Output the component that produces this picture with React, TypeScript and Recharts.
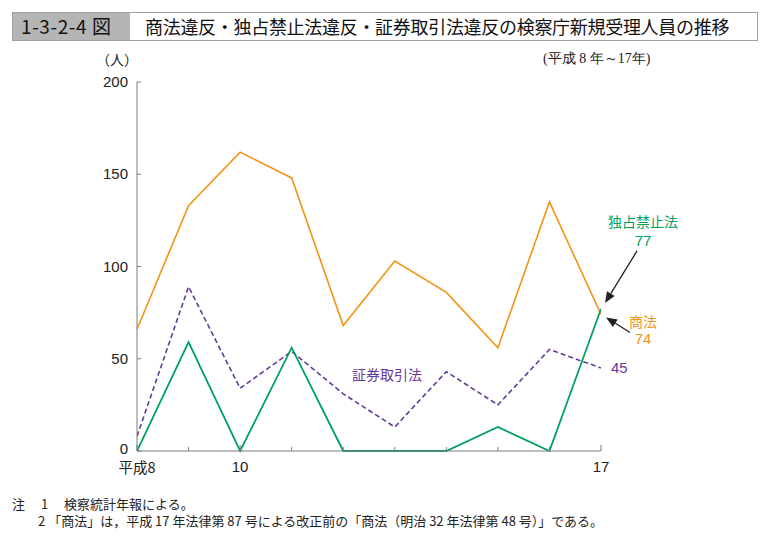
import React from 'react';
import { LineChart, Line, XAxis, YAxis, ReferenceDot } from 'recharts';

const years = [8, 9, 10, 11, 12, 13, 14, 15, 16, 17];
const shoho = [66, 133, 162, 148, 68, 103, 86, 56, 135, 74];
const dokusen = [0, 59, 0, 56, 0, 0, 0, 13, 0, 77];
const shoken = [8, 89, 34, 54, 31, 13, 43, 25, 55, 45];
const xTicks = [8, 9, 10, 11, 12, 13, 14, 15, 16, 17];
const xTickLabels: Record<number, string> = { 8: '平成8', 10: '10', 17: '17' };
const yTicks = [0, 50, 100, 150, 200];

const ORANGE = '#F39414';
const GREEN = '#00A05E';
const PURPLE = '#65399A';
const AXIS = '#7d7d7d';
const NUMFONT = '"Liberation Sans", Arial, sans-serif';
const JPFONT = '"Noto Sans CJK JP", "Noto Sans", sans-serif';

const data = years.map((y, i) => ({ year: y, shoho: shoho[i], dokusen: dokusen[i], shoken: shoken[i] }));
const last = data.length - 1;

const XTick = (props: any) => {
  const { x, y, payload } = props;
  const label = xTickLabels[payload.value];
  const jp = label && label.length > 2;
  return (
    <g>
      <line x1={x} y1={y} x2={x} y2={y - (label ? 6 : 4)} stroke={AXIS} strokeWidth={1} />
      {label && (
        <text x={x} y={y + (jp ? 22 : 21)} textAnchor="middle" fontSize={jp ? 14.5 : 15} fill="#222" fontFamily={jp ? JPFONT : NUMFONT}>
          {label}
        </text>
      )}
    </g>
  );
};

const YTick = (props: any) => {
  const { x, y, payload } = props;
  return (
    <g>
      <line x1={x} y1={y} x2={x + 4} y2={y} stroke={AXIS} strokeWidth={1} />
      <text x={x - 9} y={y + (payload.value === 0 ? 3 : 5)} textAnchor="end" fontSize={15} fill="#222" fontFamily={NUMFONT}>
        {payload.value}
      </text>
    </g>
  );
};

const Arrow = ({ x1, y1, x2, y2 }: { x1: number; y1: number; x2: number; y2: number }) => {
  const ang = Math.atan2(y2 - y1, x2 - x1);
  const len = 11;
  const w = 4.5;
  const bx = x2 - len * Math.cos(ang);
  const by = y2 - len * Math.sin(ang);
  const px = -Math.sin(ang) * w;
  const py = Math.cos(ang) * w;
  return (
    <g>
      <line x1={x1} y1={y1} x2={bx} y2={by} stroke="#222" strokeWidth={1.3} />
      <polygon points={`${x2},${y2} ${bx + px},${by + py} ${bx - px},${by - py}`} fill="#222" />
    </g>
  );
};

const DokusenLabel = (props: any) => {
  const { cx, cy } = props;
  return (
    <g>
      <Arrow x1={cx + 36} y1={cy - 58} x2={cx + 4} y2={cy - 6} />
      <text x={cx + 42} y={cy - 82} textAnchor="middle" fontSize={14} fill={GREEN} fontFamily={JPFONT}>独占禁止法</text>
      <text x={cx + 42} y={cy - 63} textAnchor="middle" fontSize={15} fill={GREEN} fontFamily={NUMFONT}>{dokusen[last]}</text>
    </g>
  );
};

const ShohoLabel = (props: any) => {
  const { cx, cy } = props;
  return (
    <g>
      <Arrow x1={cx + 29} y1={cy + 18} x2={cx + 5} y2={cy + 3} />
      <text x={cx + 42} y={cy + 13} textAnchor="middle" fontSize={14} fill={ORANGE} fontFamily={JPFONT}>商法</text>
      <text x={cx + 42} y={cy + 30} textAnchor="middle" fontSize={15} fill={ORANGE} fontFamily={NUMFONT}>{shoho[last]}</text>
    </g>
  );
};

const ShokenLabel = (props: any) => {
  const { cx, cy } = props;
  return (
    <text x={cx + 10} y={cy + 5} textAnchor="start" fontSize={15} fill={PURPLE} fontFamily={NUMFONT}>{shoken[last]}</text>
  );
};

export default function App() {
  return (
    <div style={{ position: 'absolute', left: 0, top: 0, width: 772, height: 539, background: '#fff', fontFamily: JPFONT }}>
      {/* title bar */}
      <div style={{ position: 'absolute', left: 12, top: 12, width: 118, height: 28, background: '#b5b5b5' }} />
      <div style={{ position: 'absolute', left: 12, top: 12, width: 744, height: 27, border: '1px solid #a0a0a0', boxSizing: 'content-box' }} />
      <div style={{ position: 'absolute', left: 21, top: 13, fontSize: 19, lineHeight: '26px', color: '#111', fontFamily: JPFONT, letterSpacing: 0.6, whiteSpace: 'nowrap' }}>1-3-2-4 図</div>
      <div style={{ position: 'absolute', left: 145, top: 13, fontSize: 18, lineHeight: '26px', color: '#111', fontFamily: JPFONT, whiteSpace: 'nowrap', letterSpacing: -0.3 }}>
        商法違反・独占禁止法違反・証券取引法違反の検察庁新規受理人員の推移
      </div>
      <div style={{ position: 'absolute', left: 96, top: 49, fontSize: 14, lineHeight: '20px', color: '#222' }}>（人）</div>
      <div style={{ position: 'absolute', left: 543, top: 49, fontSize: 14, lineHeight: '20px', color: '#222', fontFamily: '"Liberation Serif", serif', whiteSpace: 'nowrap' }}>
        (平成 8 年～17年)
      </div>

      <div style={{ position: 'absolute', left: 0, top: 0 }}>
        <LineChart width={772} height={539} data={data} margin={{ top: 82, right: 171, bottom: 0, left: 0 }}>
          <XAxis
            dataKey="year"
            type="number"
            domain={[8, 17]}
            ticks={xTicks}
            height={88}
            stroke={AXIS}
            tickLine={false}
            tickSize={0}
            tickMargin={0}
            tick={<XTick />}
            interval={0}
            allowDataOverflow
          />
          <YAxis
            type="number"
            domain={[0, 200]}
            ticks={yTicks}
            width={137}
            stroke={AXIS}
            tickLine={false}
            tickSize={0}
            tickMargin={0}
            tick={<YTick />}
            interval={0}
          />
          <Line dataKey="shoho" stroke={ORANGE} strokeWidth={1.6} dot={false} isAnimationActive={false} type="linear" />
          <Line dataKey="shoken" stroke={PURPLE} strokeWidth={1.6} strokeDasharray="5 3" dot={false} isAnimationActive={false} type="linear" />
          <Line dataKey="dokusen" stroke={GREEN} strokeWidth={1.8} dot={false} isAnimationActive={false} type="linear" />
          <ReferenceDot x={years[last]} y={dokusen[last]} r={0} shape={<DokusenLabel />} />
          <ReferenceDot x={years[last]} y={shoho[last]} r={0} shape={<ShohoLabel />} />
          <ReferenceDot x={years[last]} y={shoken[last]} r={0} shape={<ShokenLabel />} />
        </LineChart>
      </div>

      <div style={{ position: 'absolute', left: 352, top: 364, fontSize: 14, lineHeight: '20px', color: PURPLE }}>証券取引法</div>

      <div style={{ position: 'absolute', left: 12, top: 495, fontSize: 13, lineHeight: '18px', color: '#222', whiteSpace: 'nowrap' }}>
        注　 1 　検察統計年報による。
      </div>
      <div style={{ position: 'absolute', left: 38, top: 512, fontSize: 13, lineHeight: '18px', color: '#222', whiteSpace: 'nowrap' }}>
        2 「商法」は，平成 17 年法律第 87 号による改正前の「商法（明治 32 年法律第 48 号）」である。
      </div>
    </div>
  );
}
